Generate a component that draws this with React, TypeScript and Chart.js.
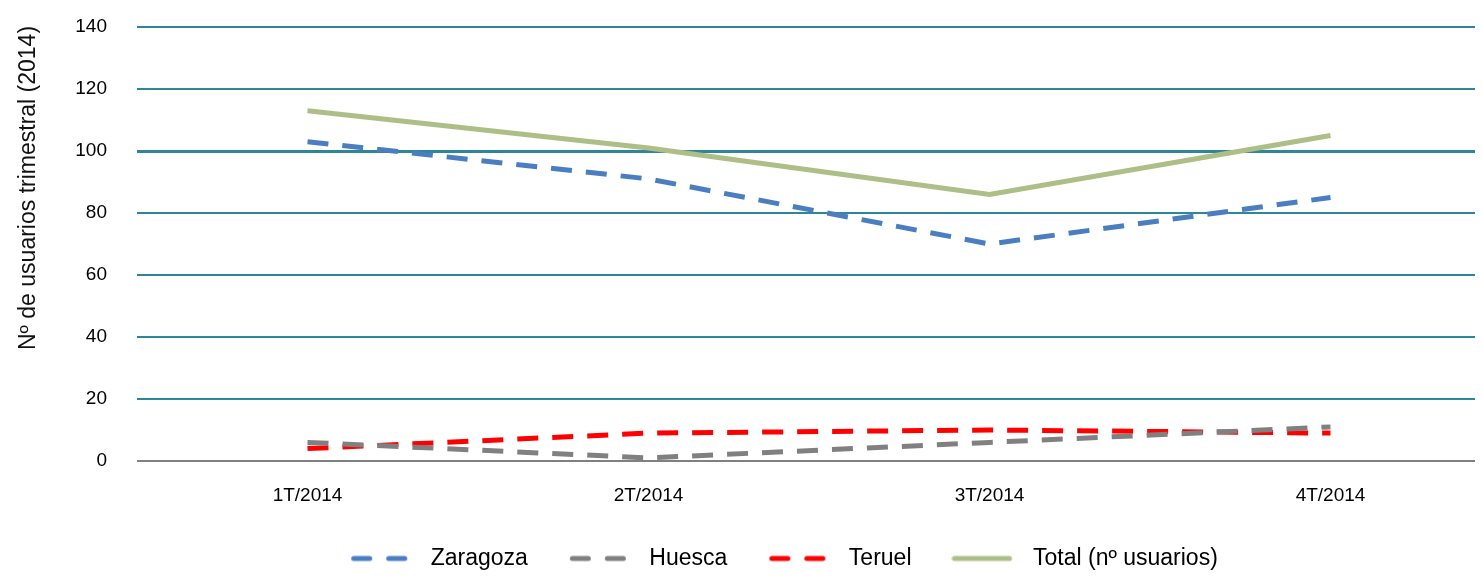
import { useEffect, useRef } from "react";
import { Chart, registerables } from "chart.js";

Chart.register(...registerables);

const categories = ["1T/2014", "2T/2014", "3T/2014", "4T/2014"];
const zaragoza = [103, 91, 70, 85];
const huesca = [6, 1, 6, 11];
const teruel = [4, 9, 10, 9];
const total = [113, 101, 86, 105];
const seriesLabels = ["Zaragoza", "Huesca", "Teruel", "Total (nº usuarios)"];
const yAxisTitle = "Nº de usuarios trimestral (2014)";
const yMin = 0;
const yMax = 140;
const yStep = 20;

const FONT = "'Liberation Sans', Arial, sans-serif";
const COLORS = ["#4A7EC1", "#808080", "#FF0000", "#AEBE87"];

function legendSample(color: string, dashed: boolean) {
  const c = document.createElement("canvas");
  c.width = 70;
  c.height = 8;
  const ctx = c.getContext("2d")!;
  ctx.strokeStyle = color;
  ctx.lineWidth = 5;
  ctx.lineCap = "round";
  ctx.beginPath();
  if (dashed) {
    ctx.moveTo(4.5, 4);
    ctx.lineTo(20.5, 4);
    ctx.moveTo(39.5, 4);
    ctx.lineTo(55.5, 4);
  } else {
    ctx.moveTo(3, 4);
    ctx.lineTo(58, 4);
  }
  ctx.stroke();
  return c;
}

const yTitlePlugin = {
  id: "yTitlePlugin",
  afterDraw(chart: any) {
    const ctx = chart.ctx;
    ctx.save();
    ctx.translate(29, 188);
    ctx.rotate(-Math.PI / 2);
    ctx.font = `23px ${FONT}`;
    ctx.fillStyle = "#111111";
    ctx.textAlign = "center";
    ctx.textBaseline = "middle";
    ctx.fillText(yAxisTitle, 0, 0);
    ctx.restore();
  },
};

export default function App() {
  const ref = useRef<HTMLCanvasElement | null>(null);

  useEffect(() => {
    if (!ref.current) return;
    const dashed = [21, 14];
    const seriesData = [zaragoza, huesca, teruel, total];
    const datasets = seriesData.map((d, i) => ({
      label: seriesLabels[i],
      data: d,
      borderColor: COLORS[i],
      backgroundColor: COLORS[i],
      borderWidth: 5,
      borderDash: i < 3 ? dashed : [],
      pointRadius: 0,
      pointHoverRadius: 0,
      pointStyle: legendSample(COLORS[i], i < 3) as any,
      tension: 0,
    }));
    const chart = new Chart(ref.current, {
      type: "line",
      data: { labels: categories, datasets },
      options: {
        animation: false,
        responsive: false,
        maintainAspectRatio: false,
        layout: { padding: { top: 27, right: 63, left: 66, bottom: 0 } },
        plugins: {
          tooltip: { enabled: false },
          legend: {
            position: "bottom",
            labels: {
              usePointStyle: true,
              pointStyleWidth: 70,
              padding: 40,
              color: "#000000",
              font: { family: FONT, size: 23 },
            },
          },
        },
        scales: {
          x: {
            offset: true,
            grid: { display: false, drawTicks: false },
            border: { display: false },
            ticks: {
              padding: 23,
              color: "#000000",
              font: { family: FONT, size: 19 },
              maxRotation: 0,
            },
            afterFit: (s: any) => {
              s.height = 46;
              s.paddingLeft = 0;
              s.paddingRight = 0;
            },
          },
          y: {
            min: yMin,
            max: yMax,
            ticks: {
              stepSize: yStep,
              padding: 30,
              color: "#000000",
              font: { family: FONT, size: 19 },
            },
            grid: {
              drawTicks: false,
              color: (c: any) => (c.tick && c.tick.value === 0 ? "#808080" : "#2E8799"),
              lineWidth: (c: any) => (c.tick && c.tick.value === 100 ? 3 : 2),
            },
            border: { display: false },
            afterFit: (s: any) => {
              s.width = 71;
              s.paddingTop = 0;
              s.paddingBottom = 0;
            },
          },
        },
      },
      plugins: [yTitlePlugin],
    });
    return () => chart.destroy();
  }, []);

  return (
    <div style={{ width: 1483, height: 579, overflow: "hidden", margin: -8 }}>
      <canvas ref={ref} width={1564} height={580} style={{ display: "block", width: 1564, height: 580 }} />
    </div>
  );
}
